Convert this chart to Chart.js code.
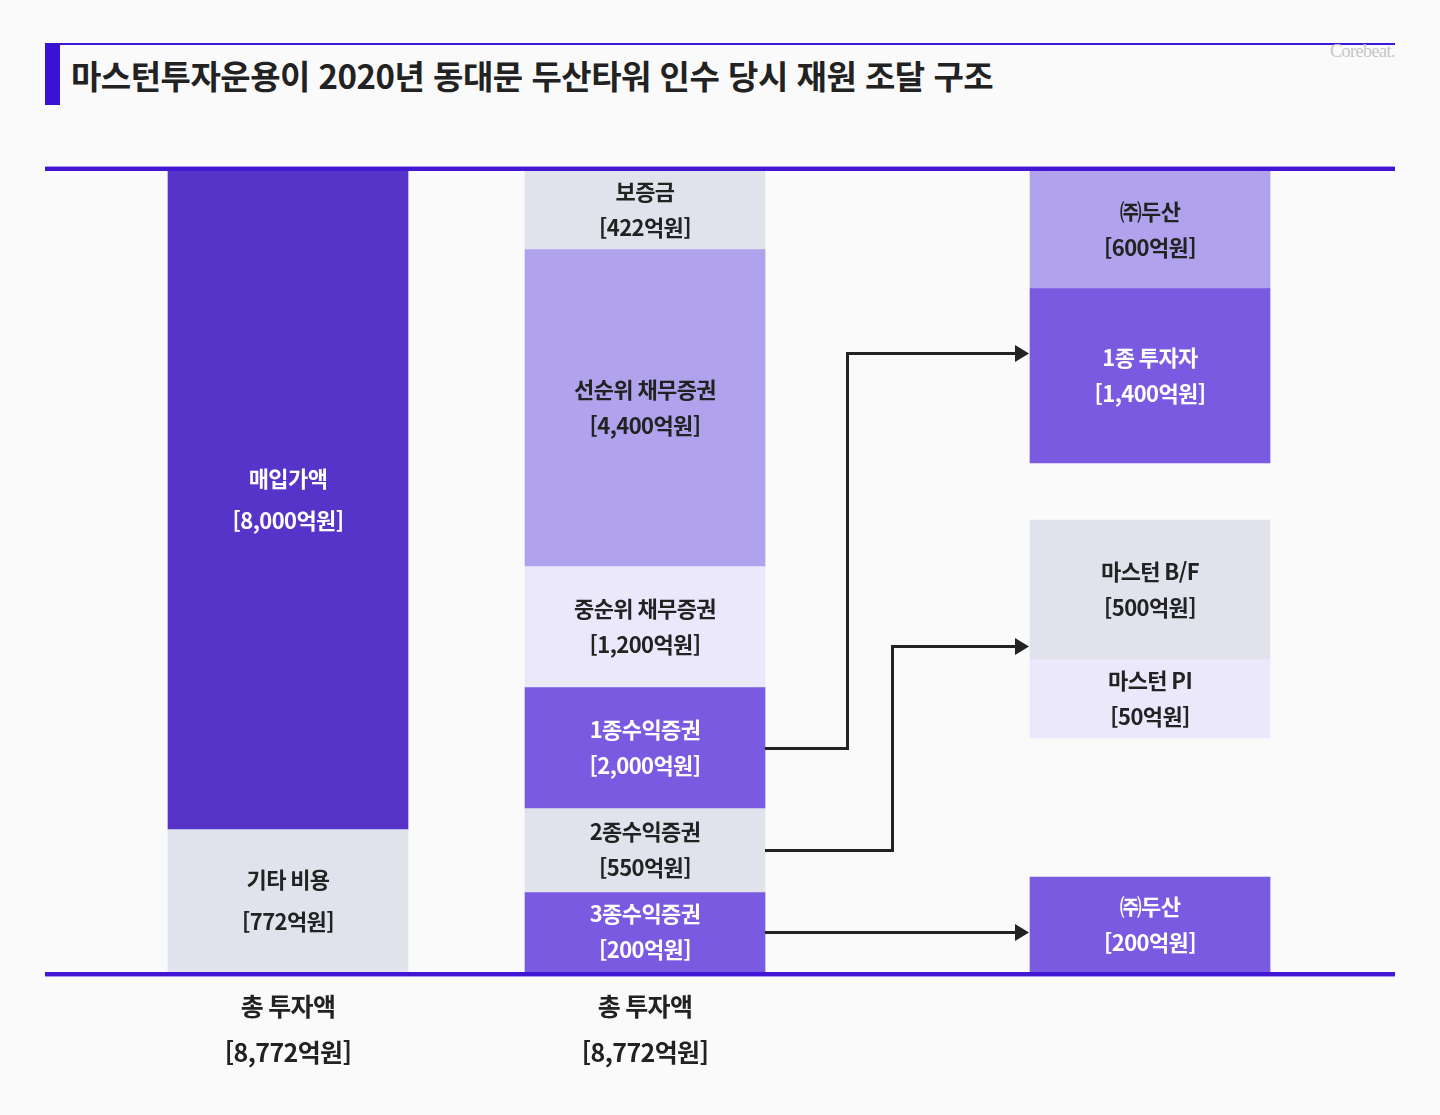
<!DOCTYPE html>
<html lang="ko">
<head>
<meta charset="utf-8">
<title>마스턴투자운용 두산타워 재원 조달 구조</title>
<script src="https://cdn.jsdelivr.net/npm/chart.js@4.4.1/dist/chart.umd.min.js"></script>
<style>
    html, body { margin: 0; padding: 0; background: #fafafa; }
    body { width: 1440px; height: 1115px; position: relative; overflow: hidden; font-family: "Noto Sans CJK KR", sans-serif; }
    #topLine { position: absolute; left: 45px; top: 43px; width: 1350px; height: 2px; background: #3d1ad6; }
    #titleBar { position: absolute; left: 45px; top: 43px; width: 15px; height: 62px; background: #3a12d4; }
    #title { position: absolute; left: 71px; top: 59px; margin: 0; font-size: 33px; line-height: 33px; font-weight: 700; color: #222; letter-spacing: -0.5px; white-space: nowrap; }
    #brand { position: absolute; right: 45px; top: 41px; font-family: "Liberation Serif", serif; font-size: 18px; color: #c6c6c6; letter-spacing: -0.5px; }
    #wrap { position: absolute; left: 0; top: 0; width: 1440px; height: 1115px; }
</style>
</head>
<body>
<div id="topLine"></div>
<div id="titleBar"></div>
<h1 id="title">마스턴투자운용이 2020년 동대문 두산타워 인수 당시 재원 조달 구조</h1>
<div id="brand">Corebeat.</div>
<div id="wrap"><canvas id="chart"></canvas></div>

<script>
// 아래 합계 라벨
const totalLabel = '총 투자액';
const totalAmount = 8772;

// 1열: 인수 비용 (억원)
const useNames = ['매입가액', '기타 비용'];
const useAmounts = [8000, 772];
const useSpans = [[17.85, 100], [0, 17.85]]; // 그림에 그려진 구간 (0~100)

// 2열: 조달 구조 (억원)
const fundNames = ['보증금', '선순위 채무증권', '중순위 채무증권', '1종수익증권', '2종수익증권', '3종수익증권'];
const fundAmounts = [422, 4400, 1200, 2000, 550, 200];
const fundSpans = [[90.26, 100], [50.69, 90.26], [35.58, 50.69], [20.47, 35.58], [9.99, 20.47], [0, 9.99]];

// 3열: 투자자 (억원)
const investorNames = ['㈜두산', '1종 투자자', '마스턴 B/F', '마스턴 PI', '㈜두산'];
const investorAmounts = [600, 1400, 500, 50, 200];
const investorSpans = [[85.39, 100], [63.55, 85.39], [39.08, 56.43], [29.21, 39.08], [0, 11.86]];

// 수익증권 -> 투자자 연결 (출발 블록, 도착 높이, 꺾이는 x)
const linkFrom = [3, 4, 5];
const linkToY = [77.34, 40.70, 4.99];
const linkTurnX = [1.5644, 1.6919, null];

// ---- 모양 ----
const colX = [0, 1, 2.4146];
const DARK = '#5634c9', MID = '#795ae0', LIGHT = '#b0a2ed', PALE = '#ece8fb', GREY = '#e0e3eb';
const useColors = [DARK, GREY];
const fundColors = [GREY, LIGHT, PALE, MID, GREY, MID];
const investorColors = [LIGHT, MID, GREY, PALE, MID];
const textOn = c => (c === DARK || c === MID) ? '#ffffff' : '#222222';

function makeSets(names, amounts, spans, colors, col) {
    return names.map((name, i) => ({
        label: name,
        data: [{ x: colX[col], y: spans[i] }],
        backgroundColor: colors[i],
        borderWidth: 0,
        barThickness: 240,
        grouped: false,
        amount: amounts[i],
        textColor: textOn(colors[i]),
        lineGap: col === 0 ? 42 : 36,
        col: col
    }));
}

const datasets = [
    ...makeSets(useNames, useAmounts, useSpans, useColors, 0),
    ...makeSets(fundNames, fundAmounts, fundSpans, fundColors, 1),
    ...makeSets(investorNames, investorAmounts, investorSpans, investorColors, 2)
];

const fmt = v => v.toLocaleString('en-US');

const decorPlugin = {
    id: 'decor',
    afterDatasetsDraw(chart) {
        const ctx = chart.ctx;
        const area = chart.chartArea;
        const xs = chart.scales.x, ys = chart.scales.y;
        ctx.save();

        // 위 아래 굵은 선
        ctx.fillStyle = '#a996ee';
        ctx.fillRect(area.left, area.top - 5, area.right - area.left, 1);
        ctx.fillRect(area.left, area.bottom + 4, area.right - area.left, 1);
        ctx.fillStyle = '#4216d2';
        ctx.fillRect(area.left, area.top - 4, area.right - area.left, 4);
        ctx.fillRect(area.left, area.bottom, area.right - area.left, 4);

        // 블록 라벨
        ctx.textAlign = 'center';
        ctx.textBaseline = 'middle';
        ctx.font = '600 22px "Noto Sans CJK KR"';
        ctx.letterSpacing = '-0.6px';
        chart.data.datasets.forEach((ds, i) => {
            const el = chart.getDatasetMeta(i).data[0];
            const cy = (el.y + el.base) / 2;
            ctx.fillStyle = ds.textColor;
            ctx.fillText(ds.label, el.x, cy - ds.lineGap / 2);
            ctx.fillText('[' + fmt(ds.amount) + '억원]', el.x, cy + ds.lineGap / 2);
        });

        // 연결 화살표
        const fundStart = useNames.length;
        const invStart = fundStart + fundNames.length;
        const invLeft = xs.getPixelForValue(colX[2]) - 120;
        ctx.strokeStyle = '#222';
        ctx.fillStyle = '#222';
        ctx.lineWidth = 3;
        linkFrom.forEach((f, k) => {
            const el = chart.getDatasetMeta(fundStart + f).data[0];
            const sx = el.x + 120;
            const sy = Math.round((el.y + el.base) / 2) + 0.5;
            const ty = Math.round(ys.getPixelForValue(linkToY[k])) + 0.5;
            const tip = invLeft - 1;
            ctx.beginPath();
            ctx.moveTo(sx, sy);
            if (linkTurnX[k] !== null) {
                const tx = Math.round(xs.getPixelForValue(linkTurnX[k])) + 0.5;
                ctx.lineTo(tx, sy);
                ctx.lineTo(tx, ty);
            }
            ctx.lineTo(tip - 12, ty);
            ctx.stroke();
            ctx.beginPath();
            ctx.moveTo(tip, ty);
            ctx.lineTo(tip - 14, ty - 8.5);
            ctx.lineTo(tip - 14, ty + 8.5);
            ctx.closePath();
            ctx.fill();
        });

        // 합계 라벨
        ctx.fillStyle = '#222';
        ctx.font = '700 25px "Noto Sans CJK KR"';
        ctx.letterSpacing = '-0.6px';
        [0, 1].forEach(c => {
            const x = xs.getPixelForValue(colX[c]);
            ctx.fillText(totalLabel, x, area.bottom + 34);
            ctx.fillText('[' + fmt(totalAmount) + '억원]', x, area.bottom + 80);
        });
        ctx.restore();
    }
};

new Chart(document.getElementById('chart'), {
    type: 'bar',
    data: { datasets: datasets },
    options: {
        responsive: true,
        maintainAspectRatio: false,
        animation: false,
        events: [],
        layout: { padding: { left: 45, right: 45, top: 171, bottom: 143 } },
        scales: {
            x: { type: 'linear', min: -0.6807, max: 3.1008, offset: false, display: false },
            y: { min: 0, max: 100, display: false }
        },
        plugins: {
            legend: { display: false },
            tooltip: { enabled: false }
        }
    },
    plugins: [decorPlugin]
});
</script>
</body>
</html>
